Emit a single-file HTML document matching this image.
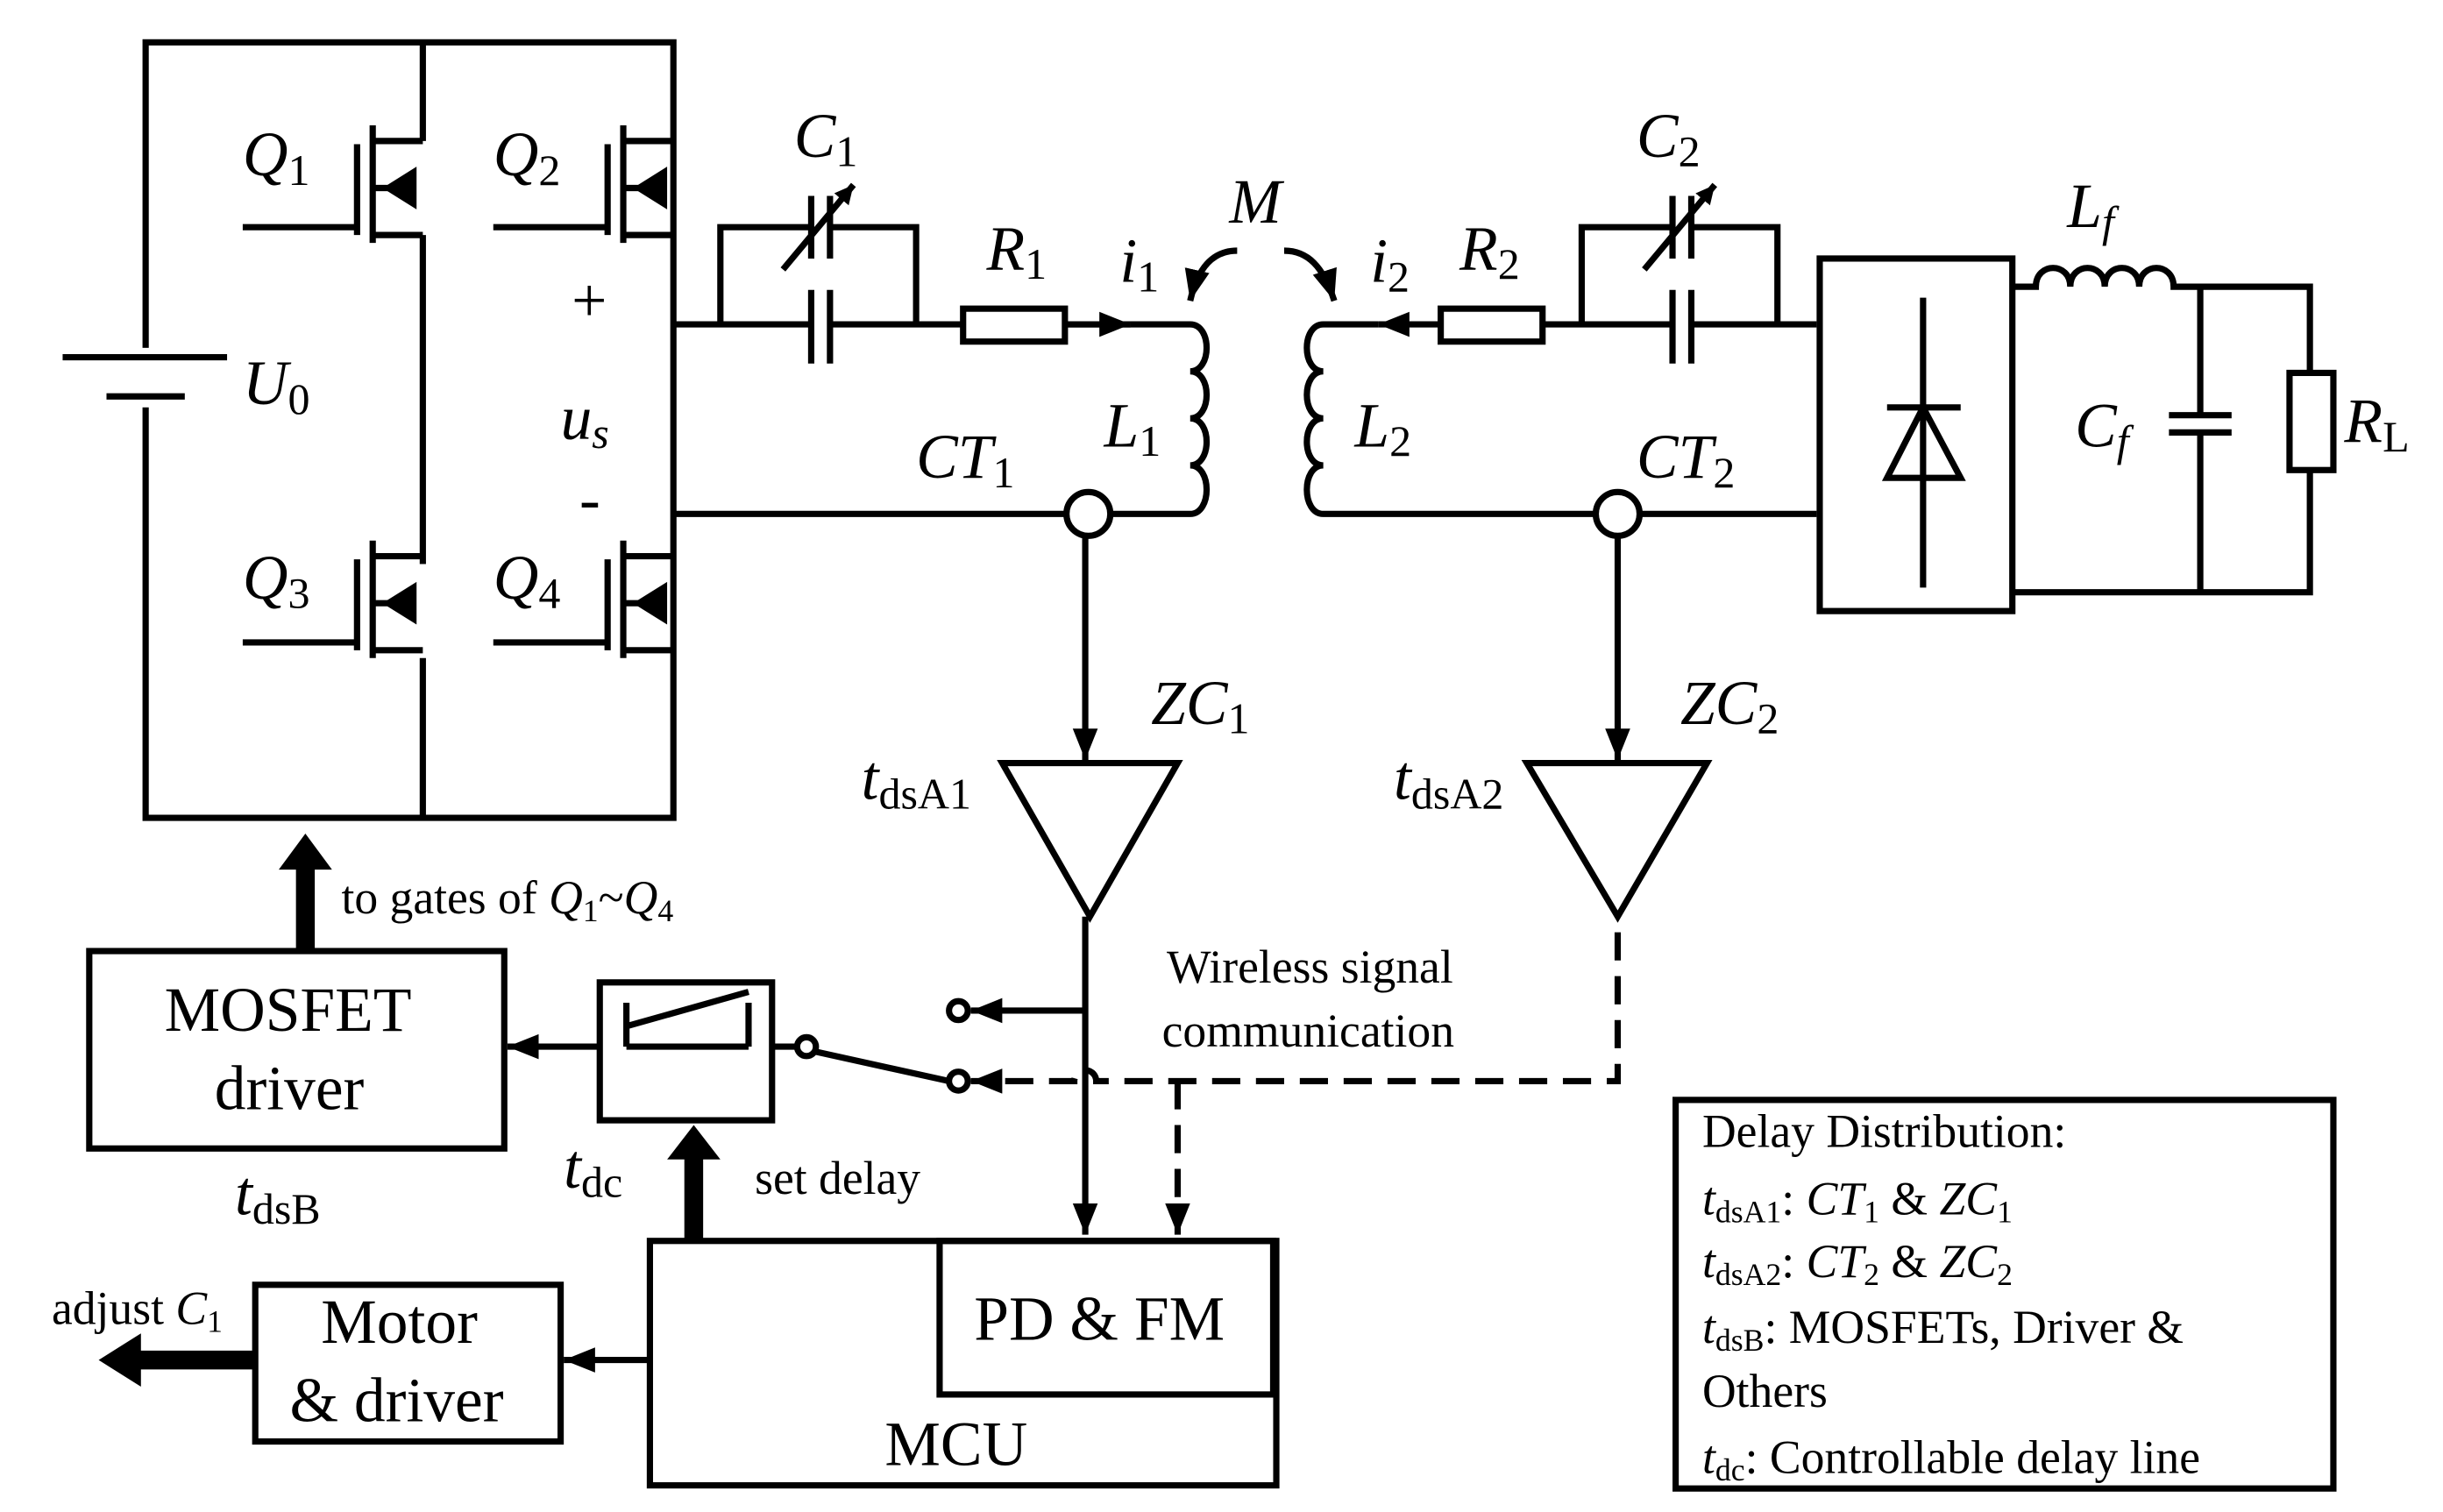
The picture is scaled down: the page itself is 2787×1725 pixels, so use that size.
<!DOCTYPE html>
<html><head><meta charset="utf-8"><style>
html,body{margin:0;padding:0;background:#fff;}
svg{display:block;}
text{font-family:"Liberation Serif",serif;fill:#000;}
</style></head><body>
<svg width="2787" height="1725" viewBox="0 0 1560 965" preserveAspectRatio="none" xmlns="http://www.w3.org/2000/svg">
<defs>
<marker id="ar" markerWidth="22" markerHeight="18" refX="20" refY="8" orient="auto" markerUnits="userSpaceOnUse"><path d="M0,0 L20,8 L0,16z" fill="#000" stroke="none"/></marker>
<marker id="sa" markerWidth="14" markerHeight="14" refX="12" refY="6" orient="auto" markerUnits="userSpaceOnUse"><path d="M0,0 L12,6 L0,12z" fill="#000" stroke="none"/></marker>
</defs>
<g stroke="#000" stroke-width="4" fill="none">
<path d="M93,27 H430 V522 H93 Z"/>
<path d="M270,27 V90 M270,150 V360 M270,420 V522"/>
</g>
<rect x="88" y="222" width="12" height="38" fill="#fff"/>
<g stroke="#000" stroke-width="4" fill="none">
<line x1="40" y1="228" x2="145" y2="228"/>
<line x1="68" y1="253" x2="118" y2="253"/>
<g id="q"><path d="M155,145 H228 M228,92 V150 M238,80 V155 M238,90 H270 M238,150 H270 M238,120 H262"/><path d="M248,120 L264,110 L264,130Z" fill="#000"/></g>
<use href="#q" transform="translate(160,0)"/>
<use href="#q" transform="translate(0,265)"/>
<use href="#q" transform="translate(160,265)"/>
<!-- primary -->
<path d="M430,207 H518 M530,207 H615 M680,207 H722"/>
<path d="M460,207 V145 H518 M530,145 H585 V207"/>
<path d="M518,185 V232 M530,185 V232"/>
<path d="M518,125 V165 M530,125 V165"/>
<path d="M500,172 L545,118" marker-end="url(#sa)"/>
<rect x="615" y="197" width="65" height="21"/>
<path d="M680,207 H722" marker-end="url(#ar)"/>
<path d="M722,207 H760 c14,0 14,30 0,30 c14,0 14,30 0,30 c14,0 14,30 0,30 c14,0 14,31 0,31 H430"/>
<circle cx="695" cy="328" r="14" fill="#fff"/>
<!-- secondary -->
<path d="M1160,207 H1080 M1068,207 H985"/>
<path d="M920,207 H880" marker-end="url(#ar)"/>
<path d="M1010,207 V145 H1068 M1080,145 H1135 V207"/>
<path d="M1068,185 V232 M1080,185 V232"/>
<path d="M1068,125 V165 M1080,125 V165"/>
<path d="M1050,172 L1095,118" marker-end="url(#sa)"/>
<rect x="920" y="197" width="65" height="21"/>
<path d="M880,207 H845 c-14,0 -14,30 0,30 c-14,0 -14,30 0,30 c-14,0 -14,30 0,30 c-14,0 -14,31 0,31 H1160"/>
<circle cx="1033" cy="328" r="14" fill="#fff"/>
<!-- rectifier -->
<rect x="1162" y="165" width="123" height="225"/>
<path d="M1228,190 V375 M1205,260 H1252 M1205,305 H1252 L1228,260 Z"/>
<path d="M1285,183 H1300 c0,-16 22,-16 22,0 c0,-16 22,-16 22,0 c0,-16 22,-16 22,0 c0,-16 22,-16 22,0 H1475 V238 M1475,300 V378 H1285"/>
<rect x="1462" y="238" width="28" height="62"/>
<path d="M1405,183 V265 M1385,265 H1425 M1385,276 H1425 M1405,276 V378"/>
<!-- M arrows -->
<path d="M790,160 C775,160 765,170 760,192" marker-end="url(#ar)"/>
<path d="M820,160 C835,160 845,170 852,192" marker-end="url(#ar)"/>
<path d="M693,342 V485" marker-end="url(#ar)"/>
<path d="M1033,342 V485" marker-end="url(#ar)"/>
<path d="M640,487 H752 L696,585 Z"/>
<path d="M975,487 H1090 L1033,585 Z"/>
<path d="M693,585 V788" marker-end="url(#ar)"/>
<path d="M693,645 H620" marker-end="url(#ar)"/>
<circle cx="612" cy="645" r="6" fill="#fff"/>
<circle cx="612" cy="690" r="6" fill="#fff"/>
<circle cx="515" cy="668" r="6" fill="#fff"/>
<path d="M493,668 H509 M520,671 L606,690"/>
<path d="M1033,595 V690 H700 a7,7 0 0 0 -14,0 H620" stroke-dasharray="18,10" marker-end="url(#ar)"/>
<path d="M752,690 V788" stroke-dasharray="18,10" marker-end="url(#ar)"/>
<rect x="383" y="627" width="110" height="88"/>
<path d="M400,640 V668 M478,640 V668 M400,668 H478 M400,655 L478,633"/>
<rect x="57" y="607" width="265" height="126"/>
<path d="M383,668 H324" marker-end="url(#ar)"/>
<rect x="415" y="792" width="400" height="156"/>
<rect x="600" y="792" width="213" height="98"/>
<rect x="163" y="820" width="195" height="100"/>
<path d="M415,868 H360" marker-end="url(#ar)"/>
<rect x="1070" y="702" width="420" height="248"/>
</g>
<path d="M189,607 V555 H178 L195,532 L212,555 H201 V607Z"/>
<path d="M437,792 V740 H426 L443,718 L460,740 H449 V792Z"/>
<path d="M163,862 H90 V851 L63,868 L90,885 V874 H163Z"/>
<g font-size="40" font-style="italic">
<text x="155" y="112">Q<tspan font-size="28" font-style="normal" dy="6">1</tspan></text>
<text x="315" y="112">Q<tspan font-size="28" font-style="normal" dy="6">2</tspan></text>
<text x="155" y="382">Q<tspan font-size="28" font-style="normal" dy="6">3</tspan></text>
<text x="315" y="382">Q<tspan font-size="28" font-style="normal" dy="6">4</tspan></text>
<text x="155" y="258">U<tspan font-size="28" font-style="normal" dy="6">0</tspan></text>
<text x="358" y="280">u<tspan font-size="28" dy="6">s</tspan></text>
<text x="507" y="100">C<tspan font-size="28" font-style="normal" dy="6">1</tspan></text>
<text x="1045" y="100">C<tspan font-size="28" font-style="normal" dy="6">2</tspan></text>
<text x="630" y="172">R<tspan font-size="28" font-style="normal" dy="6">1</tspan></text>
<text x="932" y="172">R<tspan font-size="28" font-style="normal" dy="6">2</tspan></text>
<text x="715" y="180">i<tspan font-size="28" font-style="normal" dy="6">1</tspan></text>
<text x="875" y="180">i<tspan font-size="28" font-style="normal" dy="6">2</tspan></text>
<text x="785" y="142">M</text>
<text x="705" y="285">L<tspan font-size="28" font-style="normal" dy="6">1</tspan></text>
<text x="865" y="285">L<tspan font-size="28" font-style="normal" dy="6">2</tspan></text>
<text x="585" y="305">CT<tspan font-size="28" font-style="normal" dy="6">1</tspan></text>
<text x="1045" y="305">CT<tspan font-size="28" font-style="normal" dy="6">2</tspan></text>
<text x="1320" y="145">L<tspan font-size="28" dy="6">f</tspan></text>
<text x="1325" y="285">C<tspan font-size="28" dy="6">f</tspan></text>
<text x="1497" y="282">R<tspan font-size="28" font-style="normal" dy="6">L</tspan></text>
<text x="735" y="462">ZC<tspan font-size="28" font-style="normal" dy="6">1</tspan></text>
<text x="1073" y="462">ZC<tspan font-size="28" font-style="normal" dy="6">2</tspan></text>
<text x="550" y="510">t<tspan font-size="28" font-style="normal" dy="6">dsA1</tspan></text>
<text x="890" y="510">t<tspan font-size="28" font-style="normal" dy="6">dsA2</tspan></text>
<text x="150" y="775">t<tspan font-size="28" font-style="normal" dy="6">dsB</tspan></text>
<text x="360" y="758">t<tspan font-size="28" font-style="normal" dy="6">dc</tspan></text>
</g>
<g font-size="40">
<text x="365" y="205">+</text>
<text x="370" y="332">-</text>
<text x="105" y="658">MOSFET</text>
<text x="137" y="708">driver</text>
<text x="622" y="855">PD &amp; FM</text>
<text x="565" y="935">MCU</text>
<text x="205" y="857">Motor</text>
<text x="185" y="907">&amp; driver</text>
</g>
<g font-size="30">
<text x="218" y="583">to gates of <tspan font-style="italic">Q</tspan><tspan font-size="20" dy="5">1</tspan><tspan dy="-5">~</tspan><tspan font-style="italic">Q</tspan><tspan font-size="20" dy="5">4</tspan></text>
<text x="745" y="627">Wireless signal</text>
<text x="742" y="668">communication</text>
<text x="482" y="762">set delay</text>
<text x="33" y="845">adjust <tspan font-style="italic">C</tspan><tspan font-size="20" dy="5">1</tspan></text>
<text x="1087" y="732">Delay Distribution:</text>
<text x="1087" y="775"><tspan font-style="italic">t</tspan><tspan font-size="20" dy="5">dsA1</tspan><tspan dy="-5">: </tspan><tspan font-style="italic">CT</tspan><tspan font-size="20" dy="5">1</tspan><tspan dy="-5"> &amp; </tspan><tspan font-style="italic">ZC</tspan><tspan font-size="20" dy="5">1</tspan></text>
<text x="1087" y="815"><tspan font-style="italic">t</tspan><tspan font-size="20" dy="5">dsA2</tspan><tspan dy="-5">: </tspan><tspan font-style="italic">CT</tspan><tspan font-size="20" dy="5">2</tspan><tspan dy="-5"> &amp; </tspan><tspan font-style="italic">ZC</tspan><tspan font-size="20" dy="5">2</tspan></text>
<text x="1087" y="857"><tspan font-style="italic">t</tspan><tspan font-size="20" dy="5">dsB</tspan><tspan dy="-5">: MOSFETs, Driver &amp;</tspan></text>
<text x="1087" y="898">Others</text>
<text x="1087" y="940"><tspan font-style="italic">t</tspan><tspan font-size="20" dy="5">dc</tspan><tspan dy="-5">: Controllable delay line</tspan></text>
</g>
</svg>
</body></html>
